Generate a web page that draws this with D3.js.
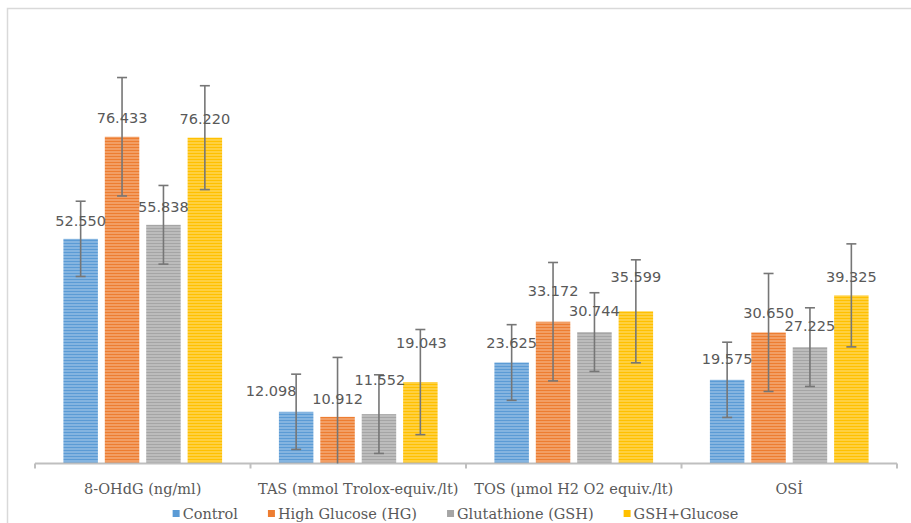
<!DOCTYPE html>
<html>
<head>
<meta charset="utf-8">
<script src="https://cdn.jsdelivr.net/npm/d3@7"></script>
<style>
  html, body { margin: 0; padding: 0; background: #fff; }
  svg { display: block; }
</style>
</head>
<body>
<svg id="chart" width="911" height="523"></svg>
<script>
// ---------- data ----------
const categories = ["8-OHdG (ng/ml)", "TAS (mmol Trolox-equiv./lt)", "TOS (µmol H2 O2 equiv./lt)", "OSİ"];
const seriesNames = ["Control", "High Glucose (HG)", "Glutathione (GSH)", "GSH+Glucose"];
const controlValues = [52.550, 12.098, 23.625, 19.575];
const hgValues      = [76.433, 10.912, 33.172, 30.650];
const gshValues     = [55.838, 11.552, 30.744, 27.225];
const gshGlcValues  = [76.220, 19.043, 35.599, 39.325];
const controlErr = [8.8, 8.8, 8.85, 8.8];
const hgErr      = [13.85, 13.9, 13.85, 13.8];
const gshErr     = [9.2, 9.2, 9.2, 9.2];
const gshGlcErr  = [12.15, 12.3, 12.05, 12.05];
const yMax = 100;

// ---------- styling / layout (not data) ----------
const colors = ["#5B9BD5", "#ED7D31", "#A5A5A5", "#FFC000"];
// per-label manual offsets (px): dx horizontal, dy baseline above bar top
const labelDx = [[0, 0, 0, 0], [-25, 0, 1, 1], [0, 0, 0, 0], [0, 0, 0, 0]];
const labelDy = [[13, 14, 13, 14], [16, 13, 29, 34], [15, 26, 16, 29], [16, 14, 16, 13]];

const values = [controlValues, hgValues, gshValues, gshGlcValues];
const errors = [controlErr, hgErr, gshErr, gshGlcErr];

const svg = d3.select("#chart");
const W = 911, H = 523;
const axisY = 463.5;
const x0 = d3.scaleBand().domain(categories).range([35, 897]).paddingInner(0).paddingOuter(0);
const x1 = d3.scaleBand().domain(seriesNames).range([0, x0.bandwidth()]).paddingInner(0.167).paddingOuter(0.686);
const y = d3.scaleLinear().domain([0, yMax]).range([axisY, 36]);

// background & frame
svg.append("rect").attr("width", W).attr("height", H).attr("fill", "#fff");
svg.append("path")
  .attr("d", `M7.5,${H} V8.5 H${W}`)
  .attr("fill", "none").attr("stroke", "#d9d9d9").attr("stroke-width", 1.5);

// patterns (horizontal stripes)
const defs = svg.append("defs");
colors.forEach((c, i) => {
  const p = defs.append("pattern").attr("id", "pat" + i)
    .attr("patternUnits", "userSpaceOnUse").attr("width", 4).attr("height", 3)
    .attr("y", axisY);
  p.append("rect").attr("width", 4).attr("height", 3).attr("fill", c);
  p.append("rect").attr("y", 0).attr("width", 4).attr("height", 1).attr("fill", "#fff").attr("opacity", 0.5);
});

// flatten
const points = [];
seriesNames.forEach((s, si) => {
  categories.forEach((cat, ci) => {
    points.push({ s, si, cat, ci, v: values[si][ci], e: errors[si][ci] });
  });
});

// bars
svg.append("g").selectAll("rect").data(points).join("rect")
  .attr("x", d => x0(d.cat) + x1(d.s))
  .attr("width", x1.bandwidth())
  .attr("y", d => y(d.v))
  .attr("height", d => y(0) - y(d.v))
  .attr("fill", d => `url(#pat${d.si})`);

// axis
const axisG = svg.append("g");
axisG.append("line").attr("x1", 35).attr("x2", 897).attr("y1", axisY).attr("y2", axisY)
  .attr("stroke", "#bfbfbf").attr("stroke-width", 2);
const tickXs = categories.map(c => x0(c)).concat([x0.range()[1]]);
axisG.selectAll("line.tick").data(tickXs).join("line").attr("class", "tick")
  .attr("x1", d => d).attr("x2", d => d).attr("y1", axisY).attr("y2", axisY + 5)
  .attr("stroke", "#bfbfbf").attr("stroke-width", 2);

// error bars
const eg = svg.append("g").attr("stroke", "#767676").attr("stroke-width", 1.6).attr("fill", "none");
const cap = 5;
points.forEach(d => {
  const cx = x0(d.cat) + x1(d.s) + x1.bandwidth() / 2;
  const top = y(d.v + d.e);
  const lowVal = d.v - d.e;
  const bot = y(Math.max(0, lowVal));
  eg.append("line").attr("x1", cx).attr("x2", cx).attr("y1", top).attr("y2", bot);
  eg.append("line").attr("x1", cx - cap).attr("x2", cx + cap).attr("y1", top).attr("y2", top);
  if (lowVal > 0) {
    eg.append("line").attr("x1", cx - cap).attr("x2", cx + cap).attr("y1", bot).attr("y2", bot);
  }
});

// data labels
svg.append("g").selectAll("text").data(points).join("text")
  .attr("x", d => x0(d.cat) + x1(d.s) + x1.bandwidth() / 2 + labelDx[d.ci][d.si])
  .attr("y", d => y(d.v) - labelDy[d.ci][d.si])
  .attr("text-anchor", "middle")
  .attr("font-family", "DejaVu Sans, sans-serif")
  .attr("font-size", 14.5)
  .attr("fill", "#595959")
  .text(d => d.v.toFixed(3));

// category labels
svg.append("g").selectAll("text").data(categories).join("text")
  .attr("x", d => x0(d) + x0.bandwidth() / 2)
  .attr("y", 494)
  .attr("text-anchor", "middle")
  .attr("font-family", "DejaVu Serif, serif")
  .attr("font-size", 14.5)
  .attr("fill", "#595959")
  .text(d => d);

// legend
const lg = svg.append("g");
const items = lg.selectAll("g").data(seriesNames).join("g");
items.append("rect").attr("width", 7).attr("height", 7).attr("y", 510)
  .attr("fill", (d, i) => colors[i]);
items.append("text").attr("x", 10).attr("y", 519)
  .attr("font-family", "DejaVu Serif, serif").attr("font-size", 14.5)
  .attr("fill", "#595959").text(d => d);
let widths = [];
items.each(function () { widths.push(this.querySelector("text").getComputedTextLength() + 10); });
const gap = 30;
const total = d3.sum(widths) + gap * (widths.length - 1);
let cur = 455.5 - total / 2;
items.attr("transform", (d, i) => { const t = `translate(${cur},0)`; cur += widths[i] + gap; return t; });
</script>
</body>
</html>
